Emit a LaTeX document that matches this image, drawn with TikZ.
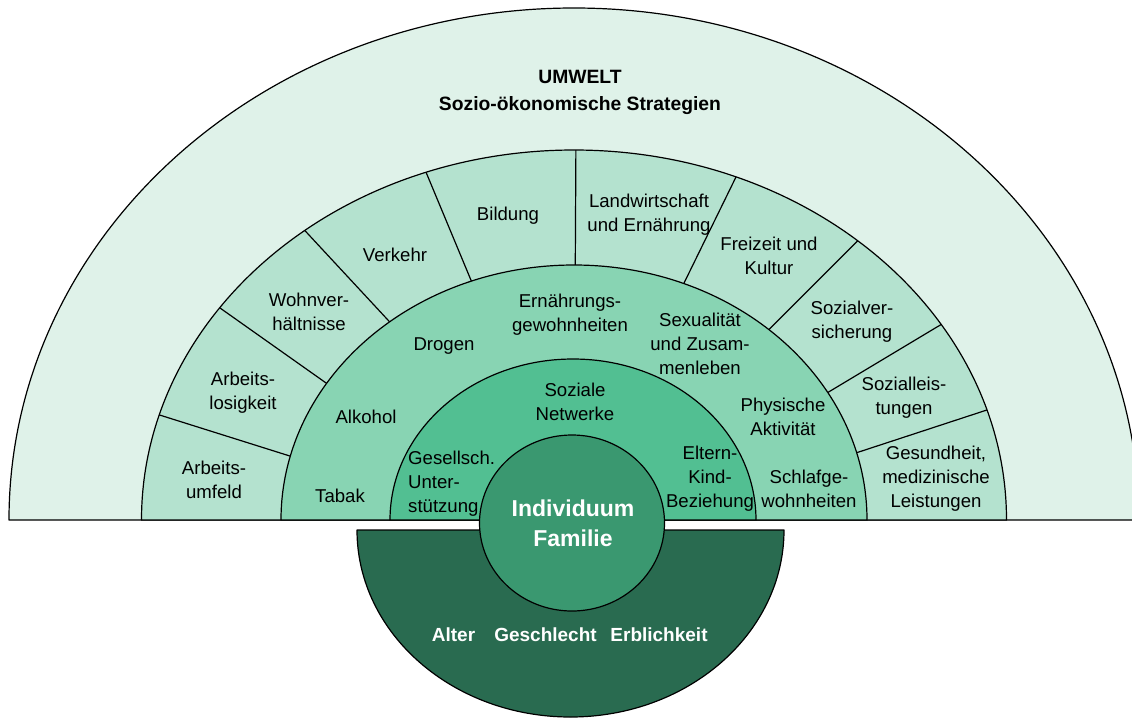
\documentclass[tikz,border=0pt]{standalone}
\usepackage{fontspec}
\setmainfont{Liberation Sans}
\usetikzlibrary{calc}
\definecolor{cOuter}{HTML}{DFF2E9}
\definecolor{cSector}{HTML}{B4E2CF}
\definecolor{cMid}{HTML}{88D4B3}
\definecolor{cIn}{HTML}{52BF92}
\definecolor{cCenter}{HTML}{3A9870}
\definecolor{cDark}{HTML}{296B50}
\begin{document}
\begin{tikzpicture}[x=1pt,y=1pt,
  ring/.style={draw=black,line width=1.2pt,line join=round},
  lbl/.style={font=\fontsize{18.6}{24}\selectfont,align=center,inner sep=0pt,text=black},
  ttl/.style={font=\fontsize{19.3}{27}\selectfont\bfseries,align=center,inner sep=0pt,text=black},
  ctr/.style={font=\fontsize{23}{30}\selectfont\bfseries,align=center,inner sep=0pt,text=white},
  btm/.style={font=\fontsize{19}{24}\selectfont\bfseries,inner sep=0pt,text=white}]
\useasboundingbox (0,0) rectangle (1132,-718);
\clip (0,0) rectangle (1132,-718);
\fill[white] (0,0) rectangle (1132,-718);
\coordinate (C) at (574,-520);
% outer environment half ellipse
\filldraw[ring,fill=cOuter] (9,-520) arc[start angle=180,end angle=0,x radius=565pt,y radius=512pt] -- cycle;
% sector ring
\filldraw[ring,fill=cSector] (141.5,-520) arc[start angle=180,end angle=0,x radius=432.5pt,y radius=370pt] -- cycle;
\foreach \a/\b in {163.5/165.5,145/147.6,128.5/129,110/110.5,89.75/89.75,68/68,49/48.3,31.9/30,17.3/15.3}
  \draw[ring] ($(C)+(\a:432.5pt and 370pt)$) -- ($(C)+(\b:293pt and 255pt)$);
% middle ring
\filldraw[ring,fill=cMid] (281,-520) arc[start angle=180,end angle=0,x radius=293pt,y radius=255pt] -- cycle;
% inner ring
\filldraw[ring,fill=cIn] (390,-520) arc[start angle=180,end angle=0,x radius=183pt,y radius=161pt] -- cycle;
% dark lower half
\filldraw[ring,fill=cDark] (357,-530) arc[start angle=180,end angle=360,x radius=213.5pt,y radius=187pt] -- cycle;
\node[lbl,align=left,anchor=west] (i2) at (408,-484) {Gesellsch.\\Unter-\\stützung};
% center
\filldraw[ring,fill=cCenter] (572,-523) ellipse[x radius=92.5pt,y radius=88pt];

\node[ttl] (umw) at (580,-92) {UMWELT\\Sozio-ökonomische Strategien};

\node[lbl] (n1) at (214,-480) {Arbeits-\\umfeld};
\node[lbl] (n2) at (243,-393) {Arbeits-\\losigkeit};
\node[lbl] (n3) at (309,-312) {Wohnver-\\hältnisse};
\node[lbl] (n4) at (395,-255) {Verkehr};
\node[lbl] (n5) at (508,-216) {Bildung};
\node[lbl] (n6) at (649,-215) {Landwirtschaft\\und Ernährung};
\node[lbl] (n7) at (769,-256) {Freizeit und\\Kultur};
\node[lbl] (n8) at (852,-322) {Sozialver-\\sicherung};
\node[lbl] (n9) at (904,-398) {Sozialleis-\\tungen};
\node[lbl] (n10) at (936,-479) {Gesundheit,\\medizinische\\Leistungen};

\node[lbl] (m1) at (340,-496) {Tabak};
\node[lbl] (m2) at (366,-417) {Alkohol};
\node[lbl] (m3) at (444,-346) {Drogen};
\node[lbl] (m4) at (570,-315) {Ernährungs-\\gewohnheiten};
\node[lbl] (m5) at (700,-344) {Sexualität\\und Zusam-\\menleben};
\node[lbl] (m6) at (783,-417) {Physische\\Aktivität};
\node[lbl] (m7) at (809,-489) {Schlafge-\\wohnheiten};

\node[lbl] (i1) at (575,-402) {Soziale\\Netwerke};
\node[lbl] (i3) at (710,-479) {Eltern-\\Kind-\\Beziehung};

\node[ctr] (ind) at (573,-523) {Individuum\\Familie};

\node[btm] (b1) at (453.5,-635) {Alter};
\node[btm] (b2) at (545.5,-635) {Geschlecht};
\node[btm] (b3) at (659,-635) {Erblichkeit};
\end{tikzpicture}
\end{document}
